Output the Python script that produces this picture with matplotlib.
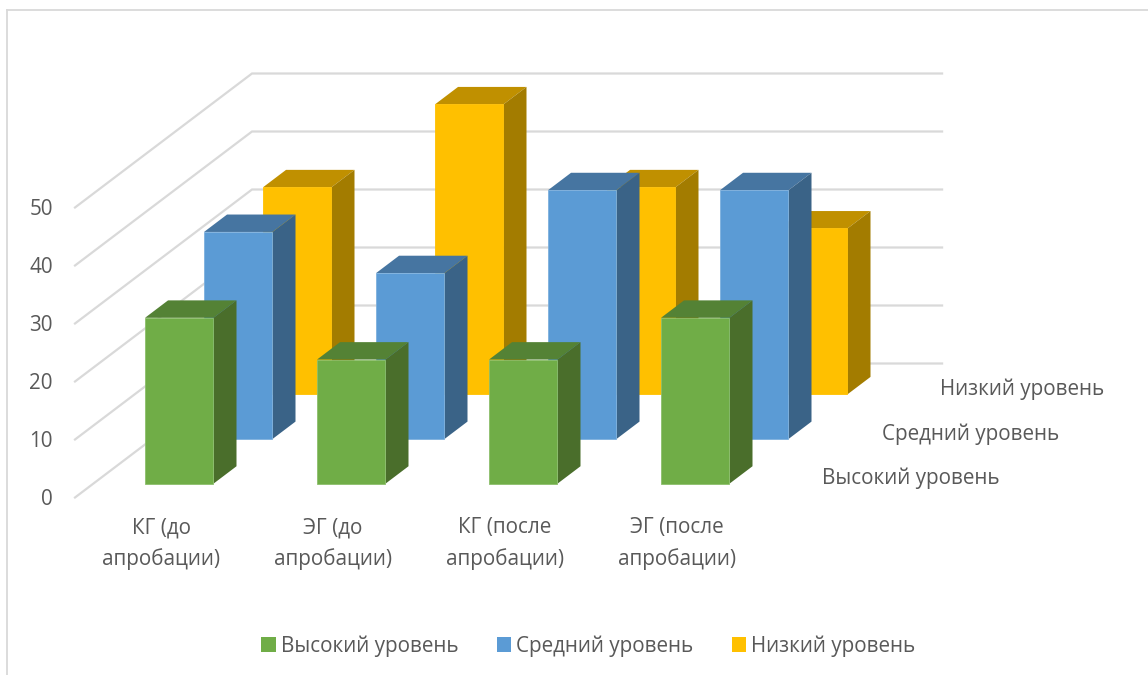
import matplotlib
matplotlib.use("Agg")
import matplotlib.pyplot as plt
from matplotlib.patches import Polygon, Patch

plt.rcParams['font.family'] = ['Open Sans', 'DejaVu Sans']

categories = ["КГ (до\nапробации)", "ЭГ (до\nапробации)", "КГ (после\nапробации)", "ЭГ (после\nапробации)"]
series_names = ["Высокий уровень", "Средний уровень", "Низкий уровень"]
high = [28.6, 21.4, 21.4, 28.6]
mid = [35.7, 28.6, 42.9, 42.9]
low = [35.7, 50.0, 35.7, 28.6]
value_ticks = [0, 10, 20, 30, 40, 50]
tick_labels = ["0", "10", "20", "30", "40", "50"]

front_cols = ["#70AD47", "#5B9BD5", "#FFC000"]
top_cols = ["#548235", "#4675A1", "#C09000"]
side_cols = ["#4A6E2B", "#3A6387", "#A37C00"]
edge_cols = ["#8CBF6C", "#7DB0DE", "#FFC000"]
GRID = "#D9D9D9"
TEXT = "#595959"
FS = 14.85

W, H = 1148, 675
fig = plt.figure(figsize=(W / 100, H / 100), dpi=100)
ax = fig.add_axes([0, 0, 1, 1])
ax.set_xlim(0, W)
ax.set_ylim(H, 0)
ax.axis("off")

# oblique projection: category units, depth units (0 front, 1 back), value units
X0, Y0 = 75, 497.5
CAT_W, DX, DY, VAL = 172, 177, 134, 5.8
WALL_END = 4.012


def proj(c, d, v):
    return X0 + CAT_W * c + DX * d, Y0 - DY * d - VAL * v


# outer frame
ax.plot([7, 7], [H, 10], color=GRID, lw=1.3, zorder=1)
ax.plot([7, W], [10, 10], color=GRID, lw=1.3, zorder=1)

# side wall and back wall gridlines
n_cat = len(categories)
for v in value_ticks:
    pts = [proj(0, 0, v), proj(0, 1, v), proj(WALL_END, 1, v)]
    ax.plot(*zip(*pts), color=GRID, lw=1.6, solid_joinstyle="miter", zorder=1)

# bars, back series first
BAR_W, BAR_D = 0.398, 0.13
z = 2
for s in (2, 1, 0):
    vals = (high, mid, low)[s]
    d0 = (s + 0.5) / 3 - 0.127 / 2
    d1 = d0 + BAR_D
    for i, v in enumerate(vals):
        c0 = i + 0.5 - BAR_W / 2
        c1 = c0 + BAR_W
        ax.add_patch(Polygon([proj(c0, d0, v), proj(c1, d0, v), proj(c1, d1, v), proj(c0, d1, v)],
                             fc=top_cols[s], ec="none", zorder=z))
        ax.add_patch(Polygon([proj(c1, d0, 0), proj(c1, d1, 0), proj(c1, d1, v), proj(c1, d0, v)],
                             fc=side_cols[s], ec="none", zorder=z))
        ax.add_patch(Polygon([proj(c0, d0, 0), proj(c1, d0, 0), proj(c1, d0, v), proj(c0, d0, v)],
                             fc=front_cols[s], ec=edge_cols[s], lw=0.6, zorder=z + 0.1))
    z += 1

# value axis labels
for v, lab in zip(value_ticks, tick_labels):
    x, y = proj(0, 0, v)
    ax.text(x - 22, y + 2, lab, ha="right", va="center", fontsize=FS, color=TEXT)

# category labels
for i, lab in enumerate(categories):
    x, _ = proj(i + 0.5, 0, 0)
    ax.text(x, 543.5, lab, ha="center", va="center", fontsize=FS, color=TEXT, linespacing=1.55)

# series labels along the depth axis
for s, name in enumerate(series_names):
    x, y = proj(4, (s + 0.5) / 3, 0)
    ax.text(x + 30, y + 3.5, name, ha="left", va="center", fontsize=FS, color=TEXT)

handles = [Patch(fc=c, ec="none", label=n) for c, n in zip(front_cols, series_names)]
ax.legend(handles=handles, loc="center", bbox_to_anchor=(588.5, 646), bbox_transform=ax.transData,
          ncol=3, frameon=False, fontsize=FS, labelcolor=TEXT, handlelength=0.7, handleheight=0.7,
          handletextpad=0.25, columnspacing=1.85, borderpad=0, borderaxespad=0)

fig.savefig("out.png", dpi=100)
